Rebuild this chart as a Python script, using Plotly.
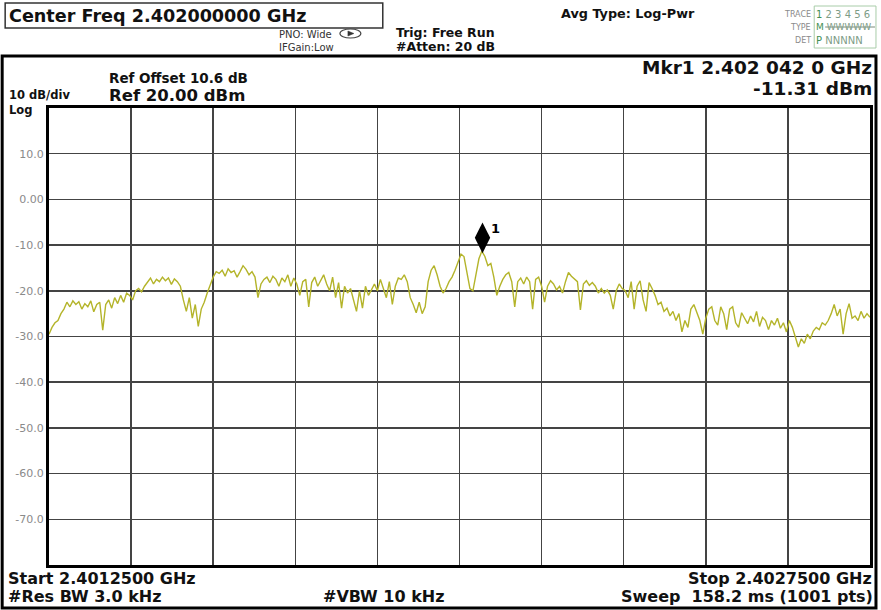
import numpy as np
import plotly.graph_objects as go

# ---------------- data ----------------
start_ghz = 2.40125
stop_ghz = 2.40275
center_ghz = 2.402
ref_level_dbm = 20.0
db_per_div = 10.0
n_div = 10
y_tick_values = [10, 0, -10, -20, -30, -40, -50, -60, -70]
y_tick_labels = ["10.0", "0.00", "-10.0", "-20.0", "-30.0", "-40.0", "-50.0", "-60.0", "-70.0"]
marker_freq_ghz = 2.4020420
marker_dbm = -11.31

trace_dbm = [
    -29.5, -28, -27, -26.5, -25, -24, -22.5, -23.5, -22.2, -23,
    -22.4, -24, -22.8, -23.5, -22.2, -24.6, -23, -22.5, -28.6, -23,
    -22, -23.8, -21.5, -22.8, -21, -22.5, -20.5, -21, -22, -20,
    -19.5, -20.2, -19, -18, -17.2, -18.5, -17.5, -18, -17, -17.8,
    -17.2, -18.6, -17.4, -18, -19, -22, -24.5, -21.5, -26, -23,
    -27.8, -24, -22.5, -20.5, -18.5, -17, -15.8, -16.2, -15.5, -16.8,
    -15.2, -16, -15.6, -17, -15.8, -14.5, -15.3, -16.5, -15.8, -17,
    -21.5, -18.5, -17.5, -17, -18.2, -16.8, -17.5, -19, -17.2, -18,
    -16.5, -19, -17.2, -18.5, -21, -18, -17.5, -23.5, -18.2, -17,
    -19, -17.6, -16.5, -18.5, -20, -17, -21.5, -18.2, -23.8, -19,
    -20.5, -19.5, -22, -24.5, -20, -23.8, -19, -21, -19.8, -18.5,
    -20, -17.5, -19.5, -21.5, -18, -23, -19, -17.2, -17.5, -16.5,
    -18, -21.5, -23, -24.8, -22.5, -25, -23.5, -18, -15.5, -14.5,
    -16.5, -19, -20.5, -19.5, -18, -17, -15.5, -13.5, -12, -12.5,
    -16, -19.5, -20, -16, -13, -11.31, -12.5, -14.5, -14, -17,
    -21, -19, -17.5, -16.5, -16, -18, -23.5, -18, -17.2, -18.5,
    -17, -18, -24, -17.5, -17, -19, -22.5, -19, -17.8, -18.5,
    -19.8, -19, -20.5, -18, -16, -16.8, -17.5, -18, -24.2, -18.5,
    -17.8, -18.8, -18.2, -19, -20.5, -19.5, -20.5, -19.8, -21, -24,
    -20, -18.5, -19.5, -20, -21.5, -18, -24, -19, -17.8, -22,
    -24.5, -18.2, -19.5, -21, -23, -22.5, -24.5, -23.8, -25.5, -24.5,
    -26.5, -25, -29, -26.5, -28, -24, -23, -25, -26.5, -29.5,
    -26, -24, -23.5, -26.5, -27.5, -23.5, -25, -28.5, -24, -23.5,
    -27, -28, -24.8, -26, -27.2, -25.5, -26.8, -24.5, -27.8, -25.8,
    -26.5, -28.5, -26.5, -27.5, -26, -28.2, -27, -29, -26.5, -28,
    -30, -32.3, -30.5, -31.5, -29.5, -30.5, -28.8, -28, -28.5, -27,
    -27.5, -26.5, -25, -23, -25.5, -24, -29.5, -25, -22.8, -26,
    -25.5, -26.5, -24.5, -26, -25, -25.8,
]

# ---------------- layout geometry (pixels) ----------------
W, H = 881, 610
L, R, T, B = 49, 873, 108, 565
MARKER_LIFT_DB = 2.9


def px(x):
    return (x - L) / (R - L)


def py(y):
    return (B - y) / (B - T)


freq_ghz = np.linspace(start_ghz, stop_ghz, len(trace_dbm))
bottom_dbm = ref_level_dbm - db_per_div * n_div
grid_y = [ref_level_dbm - db_per_div * k for k in range(n_div + 1)]
grid_y_text = [""] + y_tick_labels + [""]
grid_x = [start_ghz + (stop_ghz - start_ghz) * k / n_div for k in range(n_div + 1)]

fig = go.Figure()
fig.add_trace(go.Scatter(
    x=freq_ghz, y=trace_dbm, mode="lines",
    line=dict(color="#b4b42a", width=1.4), hoverinfo="skip",
))
fig.add_trace(go.Scatter(
    x=[marker_freq_ghz], y=[marker_dbm + MARKER_LIFT_DB], mode="markers",
    marker=dict(symbol="diamond-tall", size=22, color="black"), hoverinfo="skip",
))

fig.update_layout(
    width=W, height=H, autosize=False,
    margin=dict(l=L, r=W - R, t=T, b=H - B, pad=0),
    paper_bgcolor="white", plot_bgcolor="white",
    showlegend=False,
    xaxis=dict(range=[start_ghz, stop_ghz], tickvals=grid_x, showticklabels=False,
               showgrid=True, gridcolor="#444444", gridwidth=1.5, zeroline=False,
               showline=True, mirror=True, linecolor="black", linewidth=3, ticks=""),
    yaxis=dict(range=[bottom_dbm, ref_level_dbm], tickvals=grid_y, ticktext=grid_y_text,
               showgrid=True, gridcolor="#444444", gridwidth=1.5, zeroline=False,
               showline=True, mirror=True, linecolor="black", linewidth=3, ticks="",
               tickfont=dict(family="DejaVu Sans", size=11, color="#8a8a8a")),
)

# frame shapes
fig.add_shape(type="rect", xref="paper", yref="paper",
              x0=px(2), x1=px(879), y0=py(608), y1=py(56),
              line=dict(color="black", width=3))
fig.add_shape(type="rect", xref="paper", yref="paper",
              x0=px(5), x1=px(384), y0=py(28), y1=py(3),
              line=dict(color="#333333", width=1.5))
fig.add_shape(type="rect", xref="paper", yref="paper",
              x0=px(817), x1=px(879), y0=py(48), y1=py(6),
              line=dict(color="#a8cca8", width=1))
fig.add_shape(type="circle", xref="paper", yref="paper",
              x0=px(341), x1=px(362), y0=py(38), y1=py(29),
              line=dict(color="#444444", width=1.2))
fig.add_shape(type="path", xref="paper", yref="paper",
              path=f"M {px(349)} {py(31)} L {px(355)} {py(33.5)} L {px(349)} {py(36)} Z",
              fillcolor="#333333", line=dict(color="#333333", width=0.5))
fig.add_shape(type="line", xref="paper", yref="paper",
              x0=px(828), x1=px(878), y0=py(27), y1=py(27),
              line=dict(color="#7a8a7a", width=1))


def txt(x, y, s, size, anchor="left", color="#111111", bold=True, family="DejaVu Sans"):
    fig.add_annotation(
        x=px(x), y=py(y), xref="paper", yref="paper",
        text=f"<b>{s}</b>" if bold else s, showarrow=False,
        xanchor=anchor, yanchor="middle", borderpad=0,
        font=dict(family=family, size=size, color=color),
    )


txt(8, 16, f"Center Freq {center_ghz:.9f} GHz", 17.6)
txt(279, 34, "PNO: Wide", 10, color="#333333", bold=False)
txt(279, 47, "IFGain:Low", 10, color="#333333", bold=False)
txt(396, 32, "Trig: Free Run", 12.5)
txt(396, 46, "#Atten: 20 dB", 12.5)
txt(562, 13, "Avg Type: Log-Pwr", 12.8)
txt(815, 14, "TRACE", 8, anchor="right", color="#8a8a8a", bold=False)
txt(815, 27, "TYPE", 8, anchor="right", color="#8a8a8a", bold=False)
txt(815, 40, "DET", 8, anchor="right", color="#8a8a8a", bold=False)
txt(818, 14, "<span style='color:#3f8f52'>1</span> 2 3 4 5 6", 10, color="#7d9c86", bold=False)
txt(818, 27, "<span style='color:#3f8f52'>M</span> WWWWW", 9, color="#7d9c86", bold=False)
txt(818, 40, "<span style='color:#3f8f52'>P</span> NNNNN", 10, color="#7d9c86", bold=False)

txt(108, 78, "Ref Offset 10.6 dB", 13.5)
txt(8, 95, f"{db_per_div:.0f} dB/div", 11.5)
txt(108, 96, f"Ref {ref_level_dbm:.2f} dBm", 16.5)
txt(8, 110, "Log", 11.5)
txt(876, 67, "Mkr1 2.402 042 0 GHz", 18.5, anchor="right")
txt(876, 88.5, f"{marker_dbm:.2f} dBm", 18.5, anchor="right")

txt(7, 578, f"Start {start_ghz:.7f} GHz", 16)
txt(7, 596, "#Res BW 3.0 kHz", 16)
txt(323, 596, "#VBW 10 kHz", 16)
txt(876, 578, f"Stop {stop_ghz:.7f} GHz", 16, anchor="right")
txt(877, 596, "Sweep  158.2 ms (1001 pts)", 16, anchor="right")

fig.add_annotation(x=marker_freq_ghz, y=marker_dbm + MARKER_LIFT_DB, xref="x", yref="y",
                   text="<b>1</b>", showarrow=False, xanchor="left", yanchor="middle",
                   xshift=7, yshift=9, font=dict(family="DejaVu Sans", size=13, color="black"))

fig.write_html(
    "out.html",
    config={"displayModeBar": False, "staticPlot": True},
    post_script="document.body.style.margin='0px';document.body.style.overflow='hidden';",
)
